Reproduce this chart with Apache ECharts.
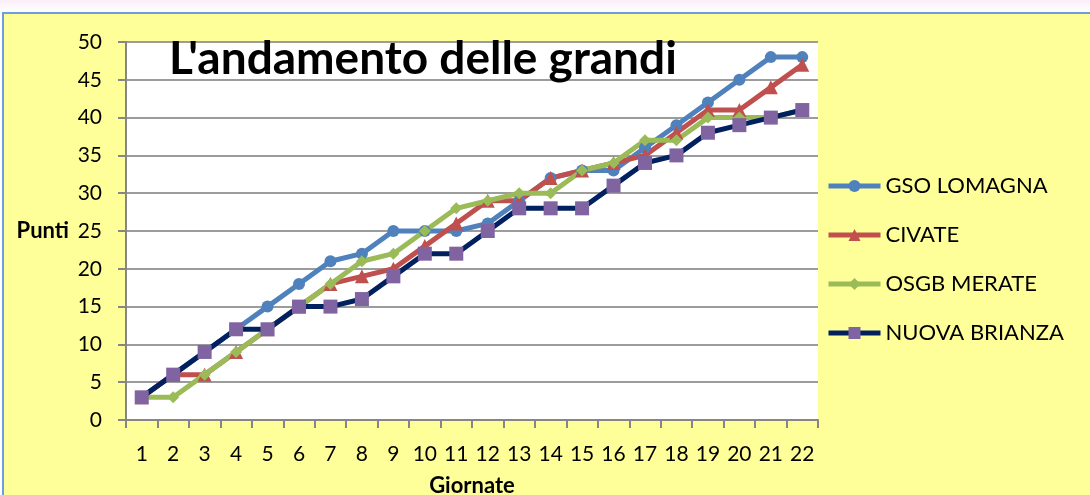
<!DOCTYPE html>
<html>
<head>
<meta charset="utf-8">
<script src="https://cdn.jsdelivr.net/npm/echarts@6/dist/echarts.min.js"></script>
<style>
  html, body { margin: 0; padding: 0; overflow: hidden; }
  body {
    width: 1090px;
    height: 495px;
    background: linear-gradient(#fbeefa, #ffffff 12px);
    position: relative;
  }
  #frame {
    position: absolute;
    left: 2px;
    top: 12px;
    width: 1100px;
    height: 500px;
    background: #ffff99;
    border-left: 2px solid #6f9ee0;
    border-top: 2px solid #6f9ee0;
  }
  #main {
    position: absolute;
    left: 0;
    top: 0;
    width: 1090px;
    height: 495px;
  }
</style>
</head>
<body>
<div id="frame"></div>
<div id="main"></div>
<script>
// giornate 1..22
const giornate = ["1", "2", "3", "4", "5", "6", "7", "8", "9", "10", "11",
  "12", "13", "14", "15", "16", "17", "18", "19", "20", "21", "22"];

// punti in classifica
const gsoLomagna = [3, 6, 9, 12, 15, 18, 21, 22, 25, 25, 25, 26, 29, 32, 33, 33, 36, 39, 42, 45, 48, 48];
const civate = [3, 6, 6, 9, 12, 15, 18, 19, 20, 23, 26, 29, 29, 32, 33, 34, 35, 38, 41, 41, 44, 47];
const osgbMerate = [3, 3, 6, 9, 12, 15, 18, 21, 22, 25, 28, 29, 30, 30, 33, 34, 37, 37, 40, 40, 40, 41];
const nuovaBrianza = [3, 6, 9, 12, 12, 15, 15, 16, 19, 22, 22, 25, 28, 28, 28, 31, 34, 35, 38, 39, 40, 41];

const yTicks = { min: 0, max: 50, interval: 5 };

const FONT = "Lato";

var myChart = echarts.init(document.getElementById("main"), null, { renderer: "canvas" });

function serie(name, data, lineColor, symbol, symbolSize, symbolColor) {
  return {
    name: name,
    type: "line",
    data: data,
    symbol: symbol,
    symbolSize: symbolSize,
    showAllSymbol: true,
    animation: false,
    lineStyle: { color: lineColor, width: 5 },
    itemStyle: { color: symbolColor || lineColor, borderWidth: 0 },
  };
}

var option = {
  backgroundColor: "transparent",
  textStyle: { fontFamily: FONT },
  title: {
    text: "L'andamento delle grandi",
    left: 169,
    top: 36,
    padding: 0,
    textStyle: { fontSize: 46, fontWeight: "bold", color: "#000", fontFamily: FONT },
  },
  legend: {
    orient: "vertical",
    left: 826,
    top: 174,
    padding: 0,
    itemWidth: 52,
    itemHeight: 15,
    itemGap: 25,
    lineStyle: { width: 5 },
    textStyle: { fontSize: 22, color: "#000", lineHeight: 24, fontFamily: FONT, padding: [0, 0, 0, 0] },
    data: ["GSO LOMAGNA", "CIVATE", "OSGB MERATE", "NUOVA BRIANZA"],
  },
  grid: {
    left: 126,
    right: 272,
    top: 42,
    bottom: 75,
    outerBoundsMode: "none",
    containLabel: false,
    show: true,
    backgroundColor: "#ffffff",
    borderWidth: 0,
  },
  xAxis: {
    type: "category",
    data: giornate,
    boundaryGap: true,
    name: "Giornate",
    nameLocation: "middle",
    nameGap: 55,
    nameTextStyle: { fontSize: 22, fontWeight: "bold", color: "#000", fontFamily: FONT },
    axisLine: { lineStyle: { color: "#868686", width: 2 } },
    axisTick: { show: true, interval: 0, length: 8, lineStyle: { color: "#868686", width: 2 } },
    axisLabel: { interval: 0, margin: 24, fontSize: 21, color: "#000", fontFamily: FONT },
    splitLine: { show: false },
  },
  yAxis: {
    type: "value",
    min: yTicks.min,
    max: yTicks.max,
    interval: yTicks.interval,
    name: "Punti",
    nameLocation: "middle",
    nameRotate: 0,
    nameGap: 57,
    nameTextStyle: { fontSize: 22, fontWeight: "bold", color: "#000", fontFamily: FONT },
    axisLine: { show: true, lineStyle: { color: "#868686", width: 2 } },
    axisTick: { show: true, length: 8, lineStyle: { color: "#868686", width: 2 } },
    axisLabel: { margin: 24, fontSize: 21, color: "#000", fontFamily: FONT },
    splitLine: { lineStyle: { color: "#9c9c9c", width: 2 } },
  },
  series: [
    serie("GSO LOMAGNA", gsoLomagna, "#4f81bd", "circle", 12),
    serie("CIVATE", civate, "#c0504d", "triangle", 14),
    serie("OSGB MERATE", osgbMerate, "#9bbb59", "diamond", 12),
    serie("NUOVA BRIANZA", nuovaBrianza, "#002060", "rect", 14, "#8064a2"),
  ],
};

myChart.setOption(option);
</script>
</body>
</html>
